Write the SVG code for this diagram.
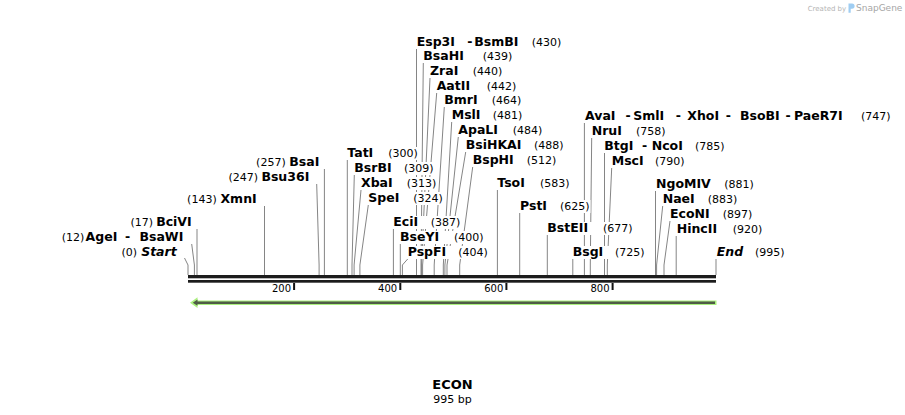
<svg xmlns="http://www.w3.org/2000/svg" width="905" height="415" viewBox="0 0 905 415">
<style>
text{font-family:"DejaVu Sans",Verdana,sans-serif;fill:#000}
.n{font-weight:bold;font-size:12.5px}
.i{font-style:italic}
.p{font-size:11px}
.r{text-anchor:end}
.m{text-anchor:middle}
.bg{fill:#fff}
#connectors polyline{stroke:#858585;stroke-width:1;fill:none}
.tk{fill:#111}
.tl{font-size:10px;text-anchor:end}
</style>
<rect width="905" height="415" fill="#fff"/>
<g id="credit">
<text x="807.7" y="10.5" style="font-size:7px;fill:#b4b4b4">Created by</text>
<path d="M848.5,3.5 h3.5 a2.6,2.6 0 0 1 0,5.2 h-1.3 v4 h-2.2 z" fill="#9fcdf2"/>
<text x="856" y="11" style="font-size:9px;fill:#a6a6a6">SnapGene</text>
</g>
<g id="connectors">
<polyline points="188,275 188,265 184.5,258"/>
<polyline points="194.4,275 194.4,265 191.7,244"/>
<polyline points="197,275 197,229"/>
<polyline points="264.5,275 264.5,206"/>
<polyline points="319.1,275 319.1,265 316.7,184"/>
<polyline points="324.4,275 324.4,169"/>
<polyline points="347.3,275 347.3,160"/>
<polyline points="352,275 352,265 354.3,175"/>
<polyline points="354.1,275 354.1,265 361,190"/>
<polyline points="359.9,275 359.9,265 368.3,205"/>
<polyline points="393.4,275 393.4,229"/>
<polyline points="400.3,275 400.3,244"/>
<polyline points="402.4,275 402.4,265 407.7,259"/>
<polyline points="416.5,275 416.5,49"/>
<polyline points="421,275 421,265 423.3,63"/>
<polyline points="421.5,275 421.5,265 430,78"/>
<polyline points="422.6,275 422.6,265 436.7,93"/>
<polyline points="434.2,275 434.2,265 444.3,107"/>
<polyline points="443.3,275 443.3,265 451.7,122"/>
<polyline points="444.9,275 444.9,265 458.3,137"/>
<polyline points="447,275 447,265 465.7,152"/>
<polyline points="459.7,275 459.7,265 472.7,167"/>
<polyline points="497.4,275 497.4,190"/>
<polyline points="519.7,275 519.7,213"/>
<polyline points="547.3,275 547.3,235"/>
<polyline points="572.8,275 572.8,259"/>
<polyline points="584.4,275 584.4,123"/>
<polyline points="590.3,275 590.3,265 591.7,138"/>
<polyline points="604.5,275 604.5,153"/>
<polyline points="607.3,275 607.3,265 611.7,168"/>
<polyline points="655.5,275 655.5,191"/>
<polyline points="656.6,275 656.6,265 662.7,206"/>
<polyline points="664,275 664,265 670,221"/>
<polyline points="676.2,275 676.2,236"/>
<polyline points="716,275 716,259"/>
</g>
<g id="backbone">
<rect x="188" y="275" width="528" height="3.3" fill="#1c1c1c"/>
<rect x="188" y="280" width="528" height="2.7" fill="#1c1c1c"/>
<rect class="tk" x="293.1" y="283" width="2" height="7"/>
<rect class="tk" x="399.3" y="283" width="2" height="7"/>
<rect class="tk" x="505.4" y="283" width="2" height="7"/>
<rect class="tk" x="611.6" y="283" width="2" height="7"/>
<text class="tl" x="291" y="291.5">200</text>
<text class="tl" x="397.2" y="291.5">400</text>
<text class="tl" x="503.3" y="291.5">600</text>
<text class="tl" x="609.5" y="291.5">800</text>
</g>
<g id="feature">
<polygon fill="#abf07f" points="190,302.7 197.5,297.3 197.5,300.4 716.5,300.4 716.5,305.1 197.5,305.1 197.5,308.1"/>
<polygon fill="#4f5c46" points="192.8,302.7 197.5,299.6 197.5,301.6 715,301.6 715,303.9 197.5,303.9 197.5,305.8"/>
</g>
<g id="n-start"><rect class="bg" x="118" y="246" width="60" height="13"/><text class="p r" x="137" y="256">(0)</text><text class="n i r" x="176.7" y="256">Start</text></g>
<g id="n-agei"><rect class="bg" x="56" y="231" width="128.5" height="13"/><text class="p r" x="84.3" y="241">(12)</text><text class="n r" x="117.3" y="241">AgeI</text><text class="n m" x="127.5" y="241">-</text><text class="n r" x="183.3" y="241">BsaWI</text></g>
<g id="n-bcivi"><rect class="bg" x="125" y="216" width="67.7" height="13"/><text class="p r" x="153" y="226">(17)</text><text class="n r" x="191.7" y="226">BciVI</text></g>
<g id="n-xmni"><rect class="bg" x="181.7" y="193" width="76" height="13"/><text class="p r" x="216.7" y="203">(143)</text><text class="n r" x="256.7" y="203">XmnI</text></g>
<g id="n-bsu36i"><rect class="bg" x="223" y="171" width="87.3" height="13"/><text class="p r" x="258" y="181">(247)</text><text class="n r" x="309.3" y="181">Bsu36I</text></g>
<g id="n-bsai"><rect class="bg" x="250" y="156" width="70.3" height="13"/><text class="p r" x="285.7" y="166">(257)</text><text class="n r" x="319.3" y="166">BsaI</text></g>
<g id="n-tati"><rect class="bg" x="346.3" y="147" width="72" height="13"/><text class="n" x="347.3" y="157">TatI</text><text class="p" x="388.3" y="157">(300)</text></g>
<g id="n-bsrbi"><rect class="bg" x="353.3" y="162" width="81" height="13"/><text class="n" x="354.3" y="172">BsrBI</text><text class="p" x="404" y="172">(309)</text></g>
<g id="n-xbai"><rect class="bg" x="360" y="177" width="77" height="13"/><text class="n" x="361" y="187">XbaI</text><text class="p" x="406.7" y="187">(313)</text></g>
<g id="n-spei"><rect class="bg" x="367.3" y="192" width="76.3" height="13"/><text class="n" x="368.3" y="202">SpeI</text><text class="p" x="413.3" y="202">(324)</text></g>
<g id="n-ecii"><rect class="bg" x="392.3" y="216" width="69" height="13"/><text class="n" x="393.3" y="226">EciI</text><text class="p" x="430.7" y="226">(387)</text></g>
<g id="n-bseyi"><rect class="bg" x="399" y="231" width="85" height="13"/><text class="n" x="400" y="241">BseYI</text><text class="p" x="454" y="241">(400)</text></g>
<g id="n-pspfi"><rect class="bg" x="406.7" y="246" width="82" height="13"/><text class="n" x="407.7" y="256">PspFI</text><text class="p" x="458.3" y="256">(404)</text></g>
<g id="n-esp3i"><rect class="bg" x="415.7" y="36" width="146.5" height="13"/><text class="n" x="416.7" y="46">Esp3I</text><text class="n m" x="469.8" y="46">-</text><text class="n" x="474.3" y="46">BsmBI</text><text class="p" x="531.7" y="46">(430)</text></g>
<g id="n-bsahi"><rect class="bg" x="422.3" y="50" width="90.5" height="13"/><text class="n" x="423.3" y="60">BsaHI</text><text class="p" x="482.7" y="60">(439)</text></g>
<g id="n-zrai"><rect class="bg" x="429" y="65" width="74" height="13"/><text class="n" x="430" y="75">ZraI</text><text class="p" x="472.7" y="75">(440)</text></g>
<g id="n-aatii"><rect class="bg" x="435.7" y="80" width="81.5" height="13"/><text class="n" x="436.7" y="90">AatII</text><text class="p" x="486.7" y="90">(442)</text></g>
<g id="n-bmri"><rect class="bg" x="443.3" y="94" width="78.5" height="13"/><text class="n" x="444.3" y="104">BmrI</text><text class="p" x="491.7" y="104">(464)</text></g>
<g id="n-msli"><rect class="bg" x="450.7" y="109" width="72.5" height="13"/><text class="n" x="451.7" y="119">MslI</text><text class="p" x="492.7" y="119">(481)</text></g>
<g id="n-apali"><rect class="bg" x="457.3" y="124" width="86" height="13"/><text class="n" x="458.3" y="134">ApaLI</text><text class="p" x="512.7" y="134">(484)</text></g>
<g id="n-bsihkai"><rect class="bg" x="464.7" y="139" width="100" height="13"/><text class="n" x="465.7" y="149">BsiHKAI</text><text class="p" x="534" y="149">(488)</text></g>
<g id="n-bsphi"><rect class="bg" x="471.7" y="154" width="85.5" height="13"/><text class="n" x="472.7" y="164">BspHI</text><text class="p" x="526.7" y="164">(512)</text></g>
<g id="n-tsoi"><rect class="bg" x="496.3" y="177" width="74" height="13"/><text class="n" x="497.3" y="187">TsoI</text><text class="p" x="540" y="187">(583)</text></g>
<g id="n-psti"><rect class="bg" x="519" y="200" width="71.5" height="13"/><text class="n" x="520" y="210">PstI</text><text class="p" x="560" y="210">(625)</text></g>
<g id="n-bsteii"><rect class="bg" x="546.3" y="222" width="87" height="13"/><text class="n" x="547.3" y="232">BstEII</text><text class="p" x="603" y="232">(677)</text></g>
<g id="n-bsgi"><rect class="bg" x="571.7" y="246" width="74" height="13"/><text class="n" x="572.7" y="256">BsgI</text><text class="p" x="615" y="256">(725)</text></g>
<g id="n-avai"><rect class="bg" x="584" y="110" width="308" height="13"/><text class="n" x="585" y="120">AvaI</text><text class="n m" x="628" y="120">-</text><text class="n" x="633.3" y="120">SmlI</text><text class="n m" x="678.3" y="120">-</text><text class="n" x="687.3" y="120">XhoI</text><text class="n m" x="728.3" y="120">-</text><text class="n" x="740" y="120">BsoBI</text><text class="n m" x="788" y="120">-</text><text class="n" x="794" y="120">PaeR7I</text><text class="p" x="861" y="120">(747)</text></g>
<g id="n-nrui"><rect class="bg" x="590.7" y="125" width="75.5" height="13"/><text class="n" x="591.7" y="135">NruI</text><text class="p" x="636" y="135">(758)</text></g>
<g id="n-btgi"><rect class="bg" x="603.3" y="140" width="122" height="13"/><text class="n" x="604.3" y="150">BtgI</text><text class="n m" x="644.5" y="150">-</text><text class="n" x="651.7" y="150">NcoI</text><text class="p" x="695" y="150">(785)</text></g>
<g id="n-msci"><rect class="bg" x="610.7" y="155" width="74.5" height="13"/><text class="n" x="611.7" y="165">MscI</text><text class="p" x="655" y="165">(790)</text></g>
<g id="n-ngomiv"><rect class="bg" x="655" y="178" width="100" height="13"/><text class="n" x="656" y="188">NgoMIV</text><text class="p" x="724.3" y="188">(881)</text></g>
<g id="n-naei"><rect class="bg" x="661.7" y="193" width="76.5" height="13"/><text class="n" x="662.7" y="203">NaeI</text><text class="p" x="707.7" y="203">(883)</text></g>
<g id="n-econi"><rect class="bg" x="669" y="208" width="84" height="13"/><text class="n" x="670" y="218">EcoNI</text><text class="p" x="722.7" y="218">(897)</text></g>
<g id="n-hincii"><rect class="bg" x="675.7" y="223" width="87.5" height="13"/><text class="n" x="676.7" y="233">HincII</text><text class="p" x="732.7" y="233">(920)</text></g>
<g id="n-end"><rect class="bg" x="715.7" y="246" width="70" height="13"/><text class="n i" x="716.7" y="256">End</text><text class="p" x="755" y="256">(995)</text></g>
<g id="title">
<text class="m" x="452.5" y="388.5" style="font-weight:bold;font-size:13px">ECON</text>
<text class="m" x="452.5" y="403" style="font-size:11px">995 bp</text>
</g>
</svg>
